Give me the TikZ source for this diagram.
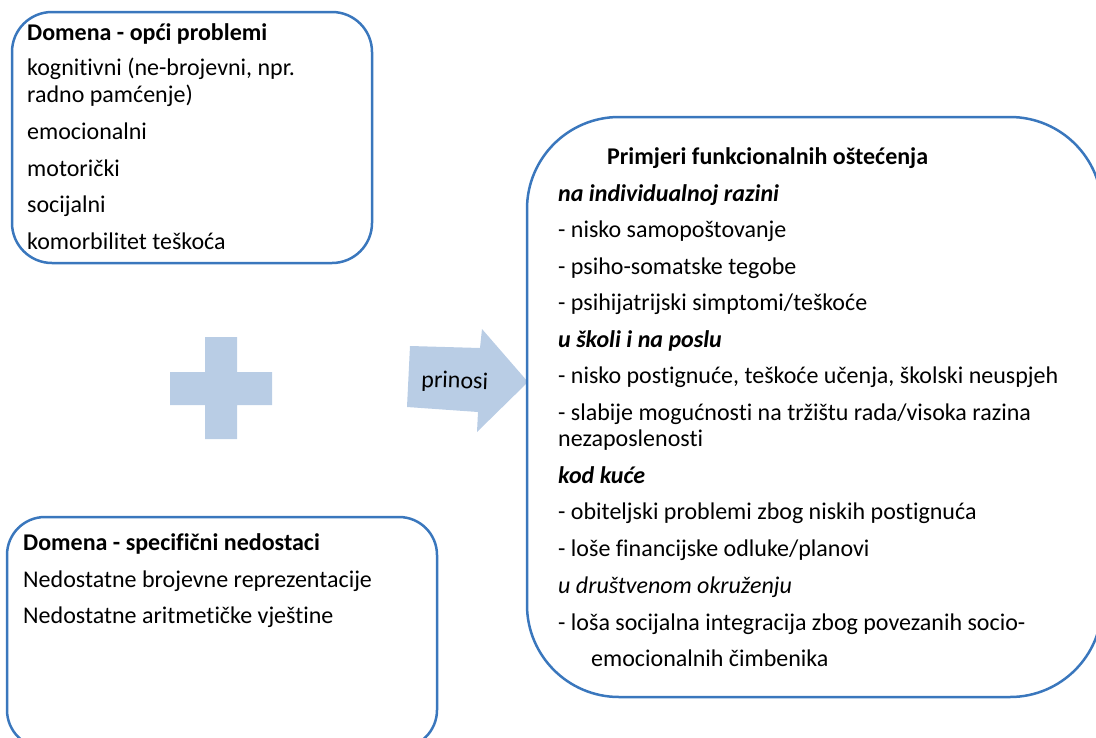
\documentclass[tikz,border=0pt]{standalone}
\usepackage{fontspec}
\setmainfont{Carlito}[Ligatures=NoCommon]
\definecolor{edge}{HTML}{3A77BD}
\definecolor{fillblue}{HTML}{B9CDE5}
\begin{document}
\begin{tikzpicture}[x=1pt,y=-1pt,
  panel/.style={draw=edge, line width=2.5pt, rectangle, inner sep=0pt},
  txt/.style={anchor=base west, inner sep=0pt, font=\fontsize{24}{28}\selectfont},
  head/.style={txt, font=\fontsize{24}{28}\selectfont\bfseries},
  cat/.style={txt, font=\fontsize{24}{28}\selectfont\bfseries\itshape},
  catit/.style={txt, font=\fontsize{24}{28}\selectfont\itshape}]
\useasboundingbox (0,0) rectangle (1096,737);
\begin{scope}
\clip (0,0) rectangle (1096,737);

% plus sign between the two domain panels
\fill[fillblue] (205,337) -- (237,337) -- (237,372) -- (272,372) -- (272,405)
  -- (237,405) -- (237,439) -- (205,439) -- (205,405) -- (170,405)
  -- (170,372) -- (205,372) -- cycle;

% block arrow leading to the impairments panel
\fill[fillblue] (410,346) -- (480,348) -- (482,329) -- (528,382) -- (477,432)
  -- (478,412) -- (407,407) -- cycle;
\node[txt, rotate=-2] (prinosi) at (421,387) {prinosi};

% panels
\node[panel, rounded corners=40pt, minimum width=360pt, minimum height=251pt]
  (general) at (192,137.5) {};
\node[panel, rounded corners=38pt, minimum width=430pt, minimum height=231pt]
  (specific) at (222,632.5) {};
\node[panel, rounded corners=92pt, minimum width=575pt, minimum height=580pt]
  (impair) at (814.5,407) {};

% general problems
\node[head] (g0) at (27,40) {Domena - opći problemi};
\node[txt] (g1) at (27,75) {kognitivni (ne-brojevni, npr.};
\node[txt] (g2) at (27,102) {radno pamćenje)};
\node[txt] (g3) at (27,139) {emocionalni};
\node[txt] (g4) at (27,176) {motorički};
\node[txt] (g5) at (27,212) {socijalni};
\node[txt] (g6) at (27,249) {komorbilitet teškoća};

% specific deficits
\node[head] (s0) at (23,550) {Domena - specifični nedostaci};
\node[txt] (s1) at (23,587) {Nedostatne brojevne reprezentacije};
\node[txt] (s2) at (23,623) {Nedostatne aritmetičke vještine};

% functional impairments
\node[head] (i0) at (607,164) {Primjeri funkcionalnih oštećenja};
\node[cat] (i1) at (558,201) {na individualnoj razini};
\node[txt] (i2) at (558,237) {- nisko samopoštovanje};
\node[txt] (i3) at (558,274) {- psiho-somatske tegobe};
\node[txt] (i4) at (558,310) {- psihijatrijski simptomi/teškoće};
\node[cat] (i5) at (558,347) {u školi i na poslu};
\node[txt] (i6) at (558,383) {- nisko postignuće, teškoće učenja, školski neuspjeh};
\node[txt] (i7) at (558,420) {- slabije mogućnosti na tržištu rada/visoka razina};
\node[txt] (i8) at (558,446) {nezaposlenosti};
\node[cat] (i9) at (558,483) {kod kuće};
\node[txt] (i10) at (558,519) {- obiteljski problemi zbog niskih postignuća};
\node[txt] (i11) at (558,556) {- loše financijske odluke/planovi};
\node[catit] (i12) at (558,593) {u društvenom okruženju};
\node[txt] (i13) at (558,630) {- loša socijalna integracija zbog povezanih socio-};
\node[txt] (i14) at (591,666) {emocionalnih čimbenika};
\end{scope}
\end{tikzpicture}
\end{document}
